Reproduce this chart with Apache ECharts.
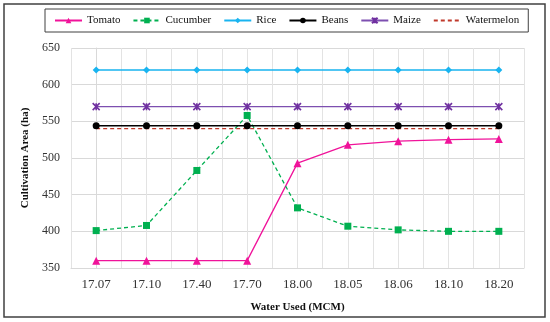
<!DOCTYPE html>
<html><head><meta charset="utf-8">
<script src="https://cdn.jsdelivr.net/npm/echarts@6/dist/echarts.min.js"></script>
<style>html,body{margin:0;padding:0;background:#fff}#c{width:550px;height:322px}</style>
</head><body><div id="c"></div>
<script>
const categories = ['17.07','17.10','17.40','17.70','18.00','18.05','18.06','18.10','18.20'];
const tomato = [360,360,360,360,493,518,523,525,526];
const cucumber = [401,408,483,558,432,407,402,400,400];
const rice = [620,620,620,620,620,620,620,620,620];
const beans = [544,544,544,544,544,544,544,544,544];
const maize = [570,570,570,570,570,570,570,570,570];
const watermelon = [540,540,540,540,540,540,540,540,540];
const yTicks = [350,400,450,500,550,600,650];

const FONT = 'Liberation Serif';
const chart = echarts.init(document.getElementById('c'));
const starPath = 'path://M0,0L10,10M10,0L0,10M5,0L5,10';
chart.setOption({
  animation:false,
  textStyle:{fontFamily:FONT},
  graphic:[{type:'rect',shape:{x:4,y:4,width:541,height:313},style:{fill:'none',stroke:'#404040',lineWidth:1.5},z:-1}],
  legend:{
    top:9,left:45,
    borderColor:'#404040',borderWidth:1,
    padding:[6,9,6,9],
    itemGap:12,itemWidth:27,itemHeight:7,
    textStyle:{fontFamily:FONT,fontSize:11,color:'#111'},
    data:['Tomato','Cucumber','Rice','Beans','Maize',
      {name:'Watermelon',itemStyle:{color:'rgba(0,0,0,0)',borderWidth:0,opacity:0}}]
  },
  grid:{left:71,right:26,top:48,bottom:54},
  xAxis:[{
    type:'category',data:categories,boundaryGap:true,
    name:'Water Used (MCM)',nameLocation:'middle',nameGap:34,
    nameTextStyle:{fontFamily:FONT,fontWeight:'bold',fontSize:11,color:'#111'},
    axisLine:{show:true,lineStyle:{color:'#d9d9d9'}},
    axisTick:{show:false},
    axisLabel:{fontFamily:FONT,fontSize:13,color:'#333',margin:10},
    splitLine:{show:false}
  },{
    type:'value',min:-0.5,max:8.5,interval:0.5,show:true,
    axisLine:{show:false},axisTick:{show:false},axisLabel:{show:false},
    splitLine:{show:true,lineStyle:{color:'#e3e3e3',width:1}}
  }],
  yAxis:{
    type:'value',min:350,max:650,interval:50,
    name:'Cultivation Area (ha)',nameLocation:'middle',nameGap:40,
    nameTextStyle:{fontFamily:FONT,fontWeight:'bold',fontSize:11,color:'#111'},
    axisLine:{show:true,lineStyle:{color:'#d9d9d9'}},
    axisTick:{show:false},
    axisLabel:{fontFamily:FONT,fontSize:12,color:'#333',margin:11},
    splitLine:{show:true,lineStyle:{color:'#d9d9d9',width:1}}
  },
  series:[
    {name:'Tomato',type:'line',data:tomato,symbol:'triangle',symbolSize:8,
     itemStyle:{color:'#f0139a'},lineStyle:{color:'#f0139a',width:1.3}},
    {name:'Cucumber',type:'line',data:cucumber,symbol:'rect',symbolSize:7,
     itemStyle:{color:'#00b050'},lineStyle:{color:'#00b050',width:1.3,type:[4,3]}},
    {name:'Rice',type:'line',data:rice,symbol:'diamond',symbolSize:7,
     itemStyle:{color:'#19b4f0'},lineStyle:{color:'#19b4f0',width:1.3}},
    {name:'Beans',type:'line',data:beans,symbol:'circle',symbolSize:7,
     itemStyle:{color:'#000'},lineStyle:{color:'#000',width:1.3}},
    {name:'Maize',type:'line',data:maize,symbol:starPath,symbolSize:7,
     itemStyle:{color:'#7030a0',borderColor:'#7030a0',borderWidth:1.6},lineStyle:{color:'#7d4fb0',width:1.3}},
    {name:'Watermelon',type:'line',data:watermelon,symbol:'none',
     itemStyle:{color:'#c0392b'},lineStyle:{color:'#c0392b',width:1.3,type:[4,3]}}
  ]
});
</script></body></html>
